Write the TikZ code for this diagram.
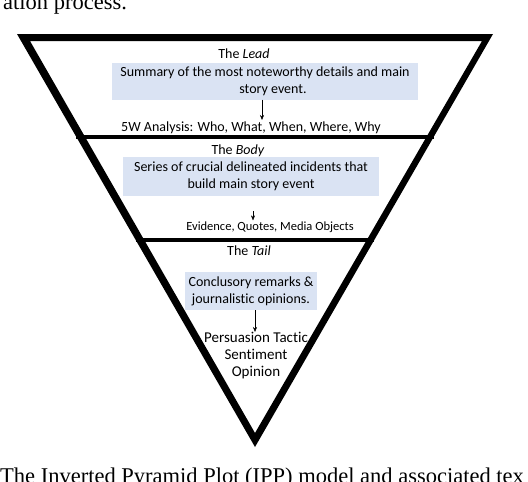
\documentclass[tikz,border=0pt]{standalone}
\usepackage{fontspec}
\setmainfont{Carlito}[Ligatures=NoCommon]
\newfontfamily\pagefont{Liberation Serif}
\usetikzlibrary{arrows.meta, positioning}
\definecolor{boxblue}{RGB}{218,227,243}

\begin{document}
\begin{tikzpicture}[>={Stealth[length=5pt, width=4pt]}, x=1pt, y=-1pt,
    title/.style={font=\fontsize{14}{16}\selectfont, inner sep=1pt},
    infobox/.style={fill=boxblue, align=center, font=\fontsize{14}{17}\selectfont, inner sep=2pt},
    plain/.style={align=center, font=\fontsize{14}{17}\selectfont, inner sep=1pt},
    pagetext/.style={font=\pagefont\fontsize{22.5}{24}\selectfont, anchor=base west, inner sep=0pt}]
    \useasboundingbox (0,0) rectangle (528,482);

    % Page text cut by the figure crop
    \node[pagetext] (pagetop) at (3,9) {ation process.};
    \node[pagetext] (caption) at (0,483) {The Inverted Pyramid Plot (IPP) model and associated tex};

    % Pyramid corners, outer and inner
    \coordinate (oTL) at (17,34);
    \coordinate (oTR) at (493,34);
    \coordinate (oapex) at (255,447);
    \coordinate (iTL) at (30,41);
    \coordinate (iTR) at (482,41);
    \coordinate (iapex) at (255,433);

    % Section borders
    \draw[line width=3.5pt] (intersection cs: first line={(oTL)--(oapex)}, second line={(0,137)--(528,137)})
        -- (intersection cs: first line={(oTR)--(oapex)}, second line={(0,137)--(528,137)});
    \draw[line width=3.5pt] (intersection cs: first line={(oTL)--(oapex)}, second line={(0,240)--(528,240)})
        -- (intersection cs: first line={(oTR)--(oapex)}, second line={(0,240)--(528,240)});
    \fill[even odd rule] (oTL) -- (oTR) -- (oapex) -- cycle (iTL) -- (iTR) -- (iapex) -- cycle;

    % Lead
    \node[title] (leadtitle) at (244,54) {The \textit{Lead}};
    \node[infobox, minimum width=306pt, minimum height=37pt] (leadbox) at (265,81)
        {Summary of the most noteworthy details and main\\\hspace*{16pt}story event.};
    \node[plain] (fivew) at (251,128) {5W Analysis: Who, What, When, Where, Why};
    \coordinate (fivewtop) at (262,120);
    \draw[->] (leadbox.south -| fivewtop) -- (fivewtop);

    % Body
    \node[title] (bodytitle) at (238,151) {The \textit{Body}};
    \node[infobox, minimum width=256pt, minimum height=39pt] (bodybox) at (251,176.5)
        {Series of crucial delineated incidents that\\build main story event};
    \node[plain, font=\fontsize{12.5}{15}\selectfont] (evidence) at (270,227) {Evidence, Quotes, Media Objects};
    \coordinate (evidtop) at (253,211);
    \draw[->] (evidtop) -- (evidtop |- evidence.north);

    % Tail
    \node[title] (tailtitle) at (249,251) {The \textit{Tail}};
    \node[infobox, minimum width=132pt, minimum height=38pt] (tailbox) at (251,291)
        {Conclusory remarks \&\\journalistic opinions.};
    \node[plain, font=\fontsize{15}{17}\selectfont, below=21pt of tailbox.south, anchor=north, xshift=5pt] (persuasion)
        {Persuasion Tactic\\Sentiment\\Opinion};
    \coordinate (tailarrow) at (255,332);
    \draw[->] (tailbox.south -| tailarrow) -- (tailarrow);
\end{tikzpicture}
\end{document}
